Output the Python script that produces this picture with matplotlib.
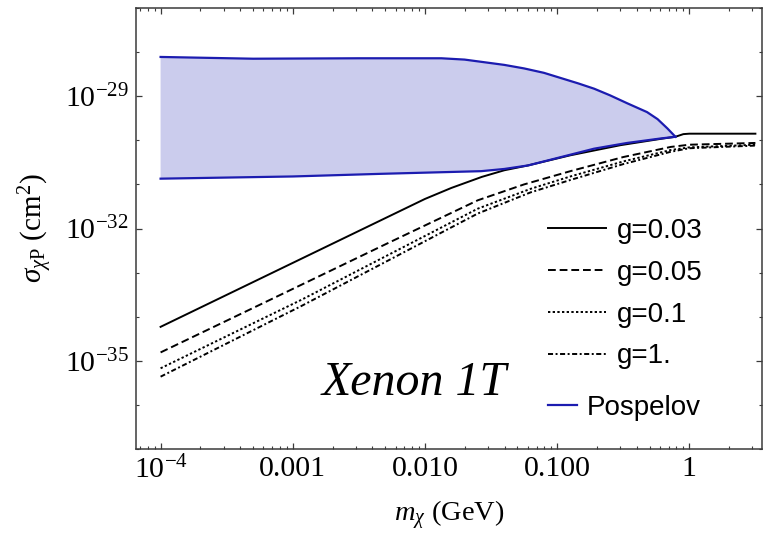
import numpy as np
import matplotlib
matplotlib.use('Agg')
import matplotlib.pyplot as plt

plt.rcParams['font.family'] = ['Liberation Serif', 'DejaVu Serif']
plt.rcParams['mathtext.fontset'] = 'custom'
plt.rcParams['mathtext.rm'] = 'Liberation Serif'
plt.rcParams['mathtext.it'] = 'Liberation Serif:italic'
plt.rcParams['mathtext.bf'] = 'Liberation Serif:bold'

# ---- data (log10 of m_chi [GeV], log10 of sigma [cm^2]) ----
lm_g003 = [-4.0, -3.0, -2.0, -1.8, -1.57, -1.4, -1.22, -0.9, -0.52, -0.2, -0.105, -0.045, 0.0, 0.5]
ls_g003 = [-34.23, -32.78, -31.33, -31.08, -30.83, -30.68, -30.57, -30.34, -30.11, -29.96, -29.92, -29.86, -29.85, -29.85]

lm_g005 = [-4.0, -3.0, -2.3, -1.6, -1.25, -0.9, -0.5, -0.14, 0.0, 0.5]
ls_g005 = [-34.81, -33.37, -32.36, -31.36, -31.0, -30.70, -30.38, -30.15, -30.10, -30.06]

lm_g01 = [-4.0, -2.93, -1.6, -1.2, -0.9, -0.5, -0.14, 0.0, 0.5]
ls_g01 = [-35.17, -33.61, -31.55, -31.10, -30.82, -30.48, -30.22, -30.16, -30.10]

lm_g1 = [-4.0, -2.93, -1.6, -1.2, -0.9, -0.5, -0.14, 0.0, 0.5]
ls_g1 = [-35.36, -33.75, -31.66, -31.18, -30.90, -30.54, -30.26, -30.18, -30.12]

lm_pos_up = [-4.0, -3.3, -2.5, -1.876, -1.7, -1.575, -1.4, -1.25, -1.1, -0.97, -0.84, -0.72, -0.6,
             -0.47, -0.32, -0.24, -0.166, -0.105]
ls_pos_up = [-28.11, -28.15, -28.14, -28.14, -28.17, -28.22, -28.29, -28.37, -28.47, -28.59, -28.71, -28.83, -28.98,
             -29.16, -29.36, -29.52, -29.73, -29.92]

lm_pos_lo = [-4.0, -3.0, -2.33, -1.575, -1.4, -1.22, -0.97, -0.72, -0.47, -0.22, -0.105]
ls_pos_lo = [-30.87, -30.82, -30.76, -30.70, -30.65, -30.57, -30.38, -30.19, -30.06, -29.96, -29.92]

x_ticks = [1e-4, 1e-3, 1e-2, 1e-1, 1.0]
x_ticklabels = [r'$10^{-4}$', '0.001', '0.010', '0.100', '1']
y_ticks = [1e-35, 1e-32, 1e-29]
y_ticklabels = [r'$10^{-35}$', r'$10^{-32}$', r'$10^{-29}$']
labels = ['g=0.03', 'g=0.05', 'g=0.1', 'g=1.']

def p10(a):
    return 10.0 ** np.asarray(a)

fig = plt.figure(figsize=(7.63, 5.36), dpi=100)
ax = fig.add_axes([136/763, 87/536, 626/763, 441/536])
ax.set_xscale('log')
ax.set_yscale('log')

blue = '#1c1cb0'
fill_c = '#cbcced'

# Pospelov band
bx = np.concatenate([p10(lm_pos_up), p10(lm_pos_lo)[::-1]])
by = np.concatenate([p10(ls_pos_up), p10(ls_pos_lo)[::-1]])
ax.fill(bx, by, color=fill_c, lw=0, zorder=1)

lw = 1.4
l1, = ax.plot(p10(lm_g003), p10(ls_g003), color='black', lw=lw, ls='-', zorder=2)
l2, = ax.plot(p10(lm_g005), p10(ls_g005), color='black', lw=lw, ls=(0, (4, 2)), zorder=2)
l3, = ax.plot(p10(lm_g01), p10(ls_g01), color='black', lw=lw, ls=(0, (1.2, 1.2)), zorder=2)
l4, = ax.plot(p10(lm_g1), p10(ls_g1), color='black', lw=lw, ls=(0, (2.6, 1.3, 1.0, 1.3)), zorder=2)
ax.plot(p10(lm_pos_up), p10(ls_pos_up), color=blue, lw=1.6, zorder=3)
lp, = ax.plot(p10(lm_pos_lo), p10(ls_pos_lo), color=blue, lw=1.6, zorder=3)

ax.set_xlim(10 ** -4.186, 10 ** 0.55)
ax.set_ylim(1e-37, 1e-27)

ax.set_xticks(x_ticks, x_ticklabels)
ax.set_yticks(y_ticks, y_ticklabels)
ax.xaxis.set_minor_locator(matplotlib.ticker.LogLocator(base=10, subs=np.arange(2, 10)))
ax.xaxis.set_minor_formatter(matplotlib.ticker.NullFormatter())
ax.set_yticks([10.0 ** k for k in range(-37, -26)], minor=True)
ax.yaxis.set_minor_formatter(matplotlib.ticker.NullFormatter())

for s in ax.spines.values():
    s.set_color('#3a3a3a')
    s.set_linewidth(1.1)
ax.tick_params(which='both', direction='in', top=True, right=True, color='#3a3a3a')
ax.tick_params(which='major', length=4.3, width=0.9, labelsize=21.5, pad=5)
ax.tick_params(which='minor', length=2.5, width=0.8)

ax.set_xlabel(r'$m_{\chi}$ (GeV)', fontsize=20.5, labelpad=10)
ax.set_ylabel(r'$\sigma_{\chi\mathrm{P}}$ (cm$^2$)', fontsize=21, labelpad=7)

ax.text(0.2966, 0.1224, 'Xenon 1T', transform=ax.transAxes, fontsize=34.5,
        style='italic', ha='left', va='baseline')

leg1 = ax.legend([l1, l2, l3, l4], labels, loc='upper left',
                 bbox_to_anchor=(0.658, 0.524), frameon=False,
                 prop={'family': 'Liberation Sans', 'size': 20},
                 handlelength=2.1, handletextpad=0.4, labelspacing=0.57,
                 borderpad=0, borderaxespad=0)
ax.add_artist(leg1)
leg2 = ax.legend([lp], ['Pospelov'], loc='upper left',
                 bbox_to_anchor=(0.658, 0.123), frameon=False,
                 prop={'family': 'Liberation Sans', 'size': 20},
                 handlelength=1.05, handletextpad=0.35,
                 borderpad=0, borderaxespad=0)

fig.savefig('out.png', dpi=100)
